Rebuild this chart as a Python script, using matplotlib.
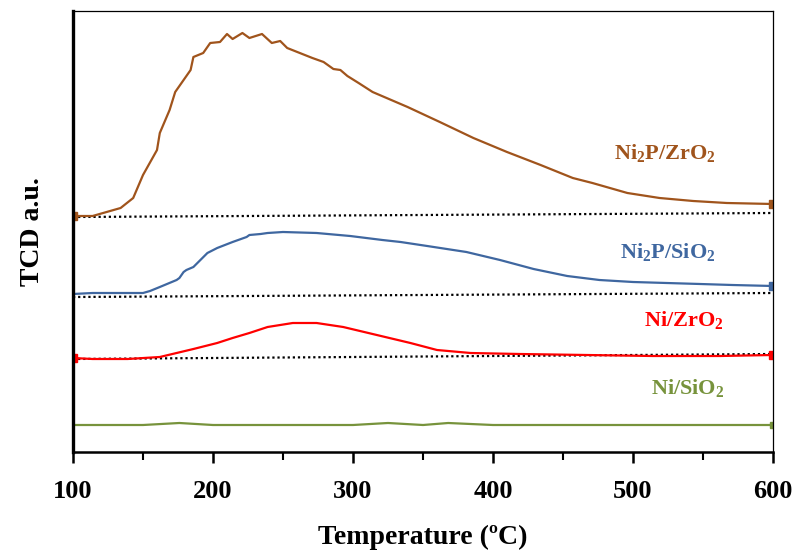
import numpy as np
import matplotlib
matplotlib.use("Agg")
import matplotlib.pyplot as plt
from matplotlib.ticker import MultipleLocator

plt.rcParams['font.family'] = ['Liberation Serif', 'DejaVu Serif']
plt.rcParams['font.weight'] = 'bold'
plt.rcParams['axes.labelweight'] = 'bold'
plt.rcParams['mathtext.fontset'] = 'custom'
plt.rcParams['mathtext.rm'] = 'Liberation Serif:bold'
plt.rcParams['mathtext.it'] = 'Liberation Serif:bold'
plt.rcParams['mathtext.bf'] = 'Liberation Serif:bold'
plt.rcParams['mathtext.default'] = 'rm'

# TPD traces (temperature in C, signal in a.u.)
t_ni2p_zr = [100, 114, 134, 143, 150, 160, 162, 169, 173, 184, 186, 193, 198, 205,
             210, 214, 221, 226, 235, 242, 248, 253, 262, 271, 279, 286, 291, 296,
             304, 314, 339, 362, 386, 410, 434, 457, 471, 496, 519, 543, 567, 600]
s_ni2p_zr = [236, 236, 244, 254, 277, 302, 319, 342, 360, 382, 395, 399, 409, 410,
             418, 413, 419, 414, 418, 409, 411, 404, 399, 394, 390, 383, 382, 376,
             369, 360, 345, 330, 314, 300, 287, 274, 269, 259, 254, 251, 249, 248]

t_ni2p_si = [100, 114, 138, 150, 155, 162, 174, 176, 179, 181, 186, 191, 196, 203,
             214, 224, 226, 234, 239, 250, 274, 298, 321, 334, 353, 381, 405, 429,
             453, 476, 500, 524, 548, 571, 600]
s_ni2p_si = [158, 159, 159, 159, 161, 165, 172, 174, 180, 182, 185, 192, 199, 204,
             210, 215, 217, 218, 219, 220, 219, 216, 212, 210, 206, 200, 192, 183,
             176, 172, 170, 169, 168, 167, 166]

t_ni_zr = [100, 114, 139, 162, 174, 186, 203, 214, 226, 239, 257, 274, 293, 317,
           341, 360, 384, 419, 467, 514, 562, 600]
s_ni_zr = [94, 93, 93, 95, 99, 103, 109, 114, 119, 125, 129, 129, 125, 117,
           109, 102, 99, 98, 97, 96, 96, 97]

t_ni_si = [100, 125, 150, 176, 200, 250, 300, 325, 350, 368, 400, 450, 500, 550, 600]
s_ni_si = [27, 27, 27, 29, 27, 27, 27, 29, 27, 29, 27, 27, 27, 27, 27]

# dotted baselines (start, end)
base_t = [100, 600]
base_ni2p_zr = [235, 239]
base_ni2p_si = [155, 159]
base_ni_zr = [93, 98]

c_brown = '#A0541C'
c_blue = '#3F67A0'
c_red = '#FF0000'
c_green = '#77933C'

fig = plt.figure(figsize=(7.99, 5.5), dpi=100)
ax = fig.add_axes([73/799, 98/550, 700/799, 441/550])

for b in (base_ni2p_zr, base_ni2p_si, base_ni_zr):
    ax.plot(base_t, b, color='black', lw=1.6, ls=(0, (1, 1.3)))

ax.plot(t_ni2p_zr, s_ni2p_zr, color=c_brown, lw=1.6, marker='s', ms=6, markevery=[0, -1])
ax.plot(t_ni2p_si, s_ni2p_si, color=c_blue, lw=1.6, marker='s', ms=6, markevery=[-1])
ax.plot(t_ni_zr, s_ni_zr, color=c_red, lw=1.6, marker='s', ms=6, markevery=[0, -1])
ax.plot(t_ni_si, s_ni_si, color=c_green, lw=1.6, marker='s', ms=5, markevery=[-1])

ax.text(523, 299, r'Ni$_2$P/ZrO$_2$', color=c_brown, fontsize=16, ha='center', va='center')
ax.text(525, 200, r'Ni$_2$P/SiO$_2$', color=c_blue, fontsize=16, ha='center', va='center')
ax.text(536, 132, r'Ni/ZrO$_2$', color=c_red, fontsize=16, ha='center', va='center')
ax.text(539, 64, r'Ni/SiO$_2$', color=c_green, fontsize=16, ha='center', va='center')

ax.set_xlim(100, 600)
ax.set_ylim(0, 441)
ax.xaxis.set_major_locator(MultipleLocator(100))
ax.xaxis.set_minor_locator(MultipleLocator(50))
ax.tick_params(axis='x', which='major', direction='out', length=8, width=1.8,
               labelsize=19, pad=12)
ax.tick_params(axis='x', which='minor', direction='out', length=6, width=1.5)
ax.set_yticks([])

ax.spines['left'].set_linewidth(2.4)
ax.spines['bottom'].set_linewidth(1.8)
ax.spines['top'].set_linewidth(0.9)
ax.spines['right'].set_linewidth(0.9)

ax.set_xlabel('Temperature (ºC)', fontsize=20, fontweight='bold', labelpad=16)
ax.set_ylabel('TCD a.u.', fontsize=20, fontweight='bold', labelpad=20)

plt.savefig('out.png', dpi=100)
